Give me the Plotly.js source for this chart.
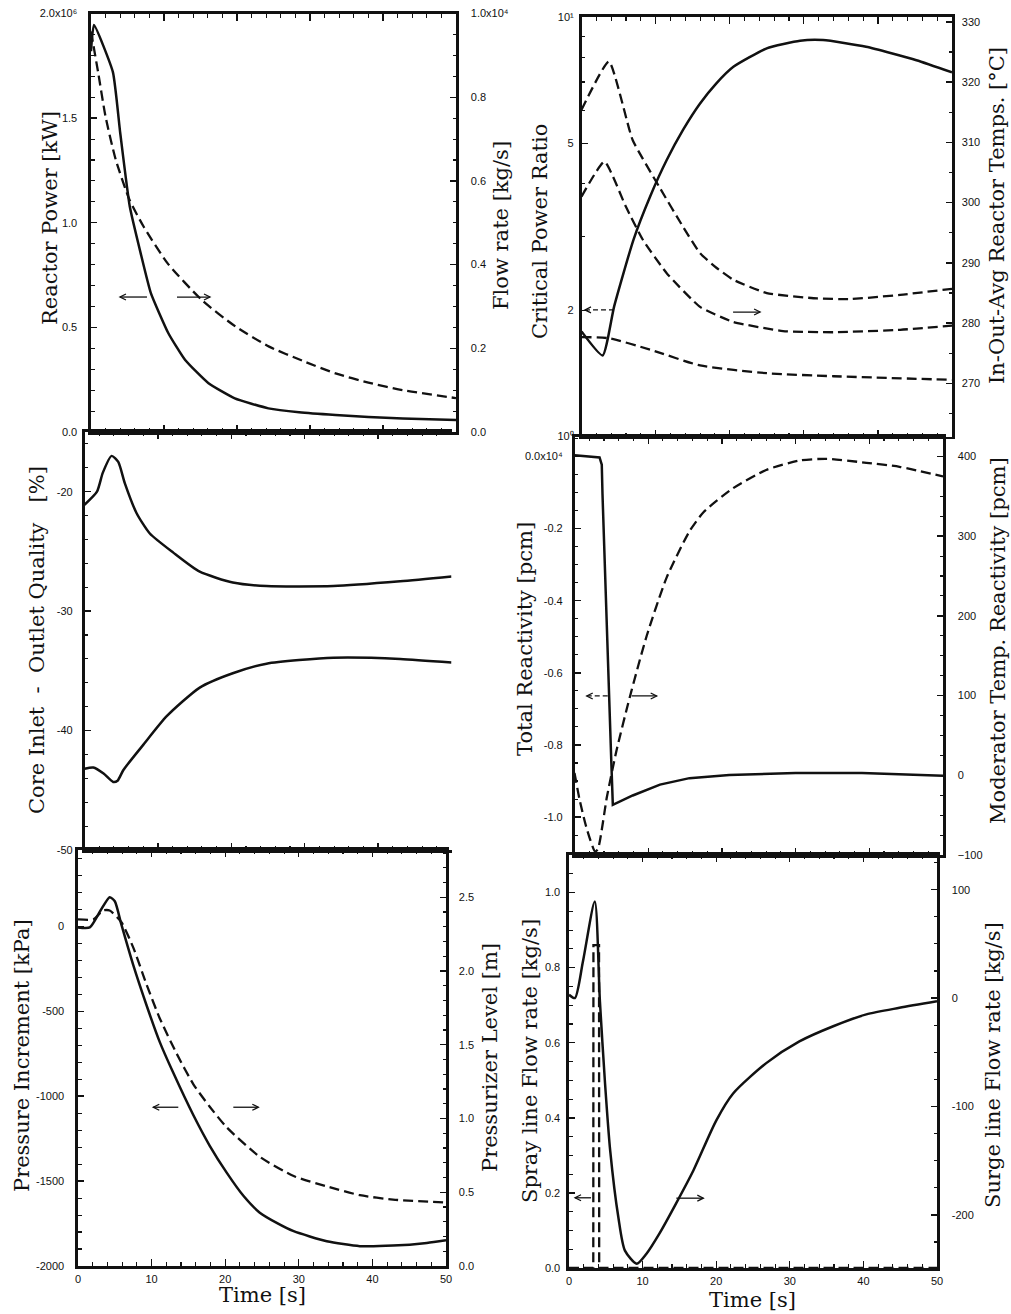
<!DOCTYPE html>
<html>
<head>
<meta charset="utf-8">
<script src="https://cdn.plot.ly/plotly-3.0.1.min.js"></script>
<style>html,body{margin:0;padding:0;background:#fff}#chart{width:1011px;height:1314px}</style>
</head>
<body>
<div id="chart"></div>
<script>
// ---------- DATA ----------
// Panel A: Reactor power [x10^6 kW] and flow rate [x10^4 kg/s]
const tPower = [0, 0.4, 3.0, 4.0, 5.3, 6.8, 8.2, 10.6, 12.9, 16.1, 19.7, 24.3, 28.5, 33.5, 38, 42.7, 50];
const reactorPower = [1.82, 1.945, 1.72, 1.43, 1.08, 0.855, 0.664, 0.472, 0.344, 0.233, 0.161, 0.113, 0.094, 0.081, 0.072, 0.065, 0.057];
const tFlow = [0, 1.0, 2.0, 3.4, 5.3, 7.2, 10.5, 15.2, 19.8, 24.4, 29, 33.5, 38, 42.7, 50];
const flowRate = [0.957, 0.857, 0.753, 0.650, 0.554, 0.491, 0.403, 0.315, 0.252, 0.204, 0.170, 0.140, 0.118, 0.100, 0.081];

// Panel B: critical power ratio (log) and in/out/avg reactor temperatures [degC]
const tCpr = [0, 2.85, 4.4, 7.0, 9.25, 11.5, 13.7, 16.0, 18.2, 20.5, 25.0, 29.5, 32.6, 38.4, 45.2, 50];
const cpr = [1.78, 1.56, 2.04, 2.94, 3.73, 4.56, 5.38, 6.22, 6.95, 7.61, 8.42, 8.78, 8.81, 8.49, 7.89, 7.38];
const tOut = [0, 3.7, 6.9, 10.5, 13.7, 16, 18.2, 20.5, 25, 31.8, 36.3, 43, 50];
const tempOut = [315.4, 323.4, 310.4, 302.6, 296.0, 291.6, 289.2, 287.2, 285.0, 284.1, 284.0, 284.7, 285.7];
const tAvg = [0, 3.1, 6.0, 8.3, 11.5, 16, 20.5, 27.2, 34, 43, 50];
const tempAvg = [301.0, 306.8, 299.3, 293.8, 288.3, 282.7, 280.2, 278.7, 278.5, 278.9, 279.6];
const tIn = [0, 3.7, 9.3, 16, 25, 34, 50];
const tempIn = [277.7, 277.5, 275.6, 273.0, 271.7, 271.2, 270.6];

// Panel C: core inlet / outlet quality [%]
const tQualOut = [0, 1.7, 2.5, 3.7, 4.6, 5.5, 7.1, 8.9, 12.1, 15.7, 20.2, 24.8, 33.9, 43, 50];
const qualOut = [-21.1, -20.0, -18.4, -17.0, -17.5, -19.3, -21.8, -23.5, -25.1, -26.7, -27.6, -27.9, -27.9, -27.5, -27.1];
const tQualIn = [0, 1.2, 2.6, 3.9, 4.5, 5.3, 8.0, 11.2, 15.7, 20.2, 24.8, 33.9, 43, 50];
const qualIn = [-43.2, -43.1, -43.6, -44.3, -44.2, -43.3, -41.2, -38.8, -36.4, -35.2, -34.4, -33.9, -34.0, -34.3];

// Panel D: total reactivity [x10^4 pcm] and moderator temperature reactivity [pcm]
const tTotal = [0, 3.4, 3.7, 3.8, 5.0, 5.2, 7.9, 11.6, 15.6, 21, 30, 39, 50];
const totalReact = [0.003, -0.003, -0.023, -0.106, -0.85, -0.966, -0.94, -0.91, -0.892, -0.883, -0.878, -0.878, -0.885];
const tMod = [0, 0.7, 1.6, 2.8, 3.2, 4.4, 5.7, 7.5, 9.8, 12.5, 15.6, 17.5, 21.5, 26, 30.6, 34.2, 39.6, 44.1, 50];
const modReact = [3, -31, -65, -96, -92, -27, 31, 98, 175, 248, 306, 330, 360, 383, 395, 397, 392, 387, 375];

// Panel E: pressure increment [kPa] and pressurizer level [m]
const tPress = [0, 1.6, 3.0, 4.3, 5.0, 5.9, 7.5, 9.3, 11.1, 12.9, 15.7, 17.9, 20.2, 22.5, 24.7, 27, 29.3, 33.8, 38.3, 42.8, 47.4, 50];
const pressInc = [-6, -6, 89, 172, 148, 10, -227, -463, -680, -858, -1114, -1292, -1450, -1588, -1686, -1746, -1795, -1854, -1883, -1880, -1864, -1848];
const tLevel = [0, 2.1, 3.4, 4.3, 5.9, 7.5, 9.3, 11.1, 13.4, 15.7, 17.9, 20.2, 24.7, 29.3, 33.8, 38.3, 42.8, 50];
const przLevel = [2.35, 2.35, 2.41, 2.41, 2.33, 2.16, 1.91, 1.68, 1.44, 1.23, 1.08, 0.94, 0.74, 0.61, 0.54, 0.48, 0.45, 0.43];

// Panel F: spray line flow [kg/s] and surge line flow [kg/s]
const tSpray = [0, 3.3, 3.32, 4.08, 4.1, 50];
const sprayFlow = [0, 0, 0.86, 0.86, 0, 0];
const tSurge = [0, 0.8, 1.9, 3.5, 4.2, 4.9, 5.6, 6.7, 7.6, 9.2, 10.5, 12.3, 14.5, 16.9, 20, 22.3, 26.8, 31.3, 35.9, 40.4, 44.9, 50];
const surgeFlow = [3, 0, 34, 89, -3, -79, -141, -202, -233, -245, -236, -217, -190, -159, -113, -88, -60, -40, -26, -15, -9, -3];

// Tick labels
const powerTicks = ['0.0', '0.5', '1.0', '1.5', '2.0x10\u2076'];
const flowTicks = ['0.0', '0.2', '0.4', '0.6', '0.8', '1.0x10\u2074'];
const cprTicks = ['10\u2070', '2', '5', '10\u00b9'];
const reactTicks = ['0.0x10\u2074', '-0.2', '-0.4', '-0.6', '-0.8', '-1.0'];

// ---------- LAYOUT HELPERS ----------
const W = 1011, H = 1314;
const fx = p => p / W;
const fy = p => 1 - p / H;
const INK = '#111';
const tickFont = {family: 'Liberation Sans, Arial, sans-serif', size: 11, color: INK};
const titleFont = {family: 'DejaVu Serif, serif', size: 21, color: INK};

// pixel boxes [left, right, top, bottom]
const box = {
  A: [91, 456, 13.5, 432],
  B: [581.5, 952, 17, 436.5],
  C: [84.5, 451.5, 432, 850],
  D: [574.5, 943, 436.5, 855],
  E: [78, 446, 850, 1266],
  F: [569, 937, 855, 1268]
};

function xAxis(b, anchor, labels) {
  return {
    domain: [fx(b[0]), fx(b[1])], anchor: anchor, range: [0, 50],
    showgrid: false, zeroline: false, showline: true, linewidth: 2.6, linecolor: INK,
    mirror: 'ticks', ticks: 'inside', ticklen: 7, tickwidth: 1.4, tickcolor: INK,
    tick0: 0, dtick: 10, showticklabels: labels, tickfont: tickFont, ticklabelstandoff: 1,
    minor: {dtick: 2, tick0: 0, ticks: 'inside', ticklen: 4, tickwidth: 1.1, tickcolor: INK, showgrid: false}
  };
}
function minorOf(d) {
  const m = {ticks: 'inside', ticklen: 3.5, tickwidth: 1.1, tickcolor: INK, showgrid: false};
  if (Array.isArray(d)) { m.tickmode = 'array'; m.tickvals = d; } else { m.dtick = d; }
  return m;
}
function yAxis(b, anchor, opts, minorD) {
  const a = Object.assign({
    domain: [fy(b[3]), fy(b[2])], anchor: anchor,
    showgrid: false, zeroline: false, showline: true, linewidth: 2.6, linecolor: INK,
    ticks: 'inside', ticklen: 6, tickwidth: 1.4, tickcolor: INK,
    tickfont: tickFont, ticklabelstandoff: 6
  }, opts);
  if (minorD) a.minor = minorOf(minorD);
  return a;
}
function rightAxis(base, anchor, opts, minorD) {
  const a = Object.assign({
    overlaying: base, side: 'right', anchor: anchor,
    showgrid: false, zeroline: false, showline: true, linewidth: 2.6, linecolor: INK,
    ticks: 'inside', ticklen: 6, tickwidth: 1.4, tickcolor: INK,
    tickfont: tickFont, ticklabelstandoff: 8
  }, opts);
  if (minorD) a.minor = minorOf(minorD);
  return a;
}

const solid = {color: INK, width: 2.5};
const dashed = {color: INK, width: 2.3, dash: '10px,5px'};
const sm = (base, s) => Object.assign({shape: 'spline', smoothing: s}, base);

const traces = [
  {x: tPower, y: reactorPower, xaxis: 'x', yaxis: 'y', mode: 'lines', line: sm(solid, 0.45), name: 'Reactor Power'},
  {x: tFlow, y: flowRate, xaxis: 'x', yaxis: 'y2', mode: 'lines', line: sm(dashed, 0.6), name: 'Flow rate'},

  {x: tCpr, y: cpr, xaxis: 'x2', yaxis: 'y3', mode: 'lines', line: sm(solid, 0.5), name: 'Critical Power Ratio'},
  {x: tOut, y: tempOut, xaxis: 'x2', yaxis: 'y4', mode: 'lines', line: sm(dashed, 0.45), name: 'Outlet temp'},
  {x: tAvg, y: tempAvg, xaxis: 'x2', yaxis: 'y4', mode: 'lines', line: sm(dashed, 0.45), name: 'Average temp'},
  {x: tIn, y: tempIn, xaxis: 'x2', yaxis: 'y4', mode: 'lines', line: sm(dashed, 0.6), name: 'Inlet temp'},

  {x: tQualOut, y: qualOut, xaxis: 'x3', yaxis: 'y5', mode: 'lines', line: sm(solid, 0.6), name: 'Outlet quality'},
  {x: tQualIn, y: qualIn, xaxis: 'x3', yaxis: 'y5', mode: 'lines', line: sm(solid, 0.6), name: 'Inlet quality'},

  {x: tTotal, y: totalReact, xaxis: 'x4', yaxis: 'y7', mode: 'lines', line: solid, name: 'Total Reactivity'},
  {x: tMod, y: modReact, xaxis: 'x4', yaxis: 'y8', mode: 'lines', line: sm(dashed, 0.6), name: 'Moderator Temp. Reactivity'},

  {x: tPress, y: pressInc, xaxis: 'x5', yaxis: 'y9', mode: 'lines', line: sm(solid, 0.6), name: 'Pressure Increment'},
  {x: tLevel, y: przLevel, xaxis: 'x5', yaxis: 'y10', mode: 'lines', line: sm(dashed, 0.6), name: 'Pressurizer Level'},

  {x: tSpray, y: sprayFlow, xaxis: 'x6', yaxis: 'y11', mode: 'lines', line: dashed, name: 'Spray line Flow rate'},
  {x: tSurge, y: surgeFlow, xaxis: 'x6', yaxis: 'y12', mode: 'lines', line: sm(solid, 0.7), name: 'Surge line Flow rate'}
];

function title(text, px, py, angle) {
  return {text: text, xref: 'paper', yref: 'paper', x: fx(px), y: fy(py), xanchor: 'center', yanchor: 'middle',
          textangle: angle, showarrow: false, font: titleFont};
}
// arrow drawn as shapes anchored at its tip; len > 0 means the tail lies to the right (arrow points left)
function arrowShapes(xr, yr, x, y, len, dashedShaft) {
  const s = len > 0 ? 1 : -1;
  const common = {type: 'path', xref: xr, yref: yr, xsizemode: 'pixel', ysizemode: 'pixel', xanchor: x, yanchor: y};
  return [
    Object.assign({}, common, {path: 'M0,0 L' + len + ',0', line: {color: INK, width: 1.3, dash: dashedShaft ? '5px,3px' : 'solid'}}),
    Object.assign({}, common, {path: 'M' + (6 * s) + ',3 L0,0 L' + (6 * s) + ',-3', line: {color: INK, width: 1.3}})
  ];
}
const nb = '\u00a0';

const shapes = [].concat(
  arrowShapes('x', 'y', 3.97, 0.645, 27, false),
  arrowShapes('x', 'y', 16.3, 0.645, -33, false),
  arrowShapes('x2', 'y4', 0.47, 282.2, 28, true),
  arrowShapes('x2', 'y4', 24.1, 281.85, -27, false),
  arrowShapes('x4', 'y8', 1.66, 99.5, 23, true),
  arrowShapes('x4', 'y8', 11.15, 99.5, -25, false),
  arrowShapes('x5', 'y9', 10.23, -1065, 25, false),
  arrowShapes('x5', 'y9', 24.5, -1065, -25, false),
  arrowShapes('x6', 'y11', 0.82, 0.187, 16, false),
  arrowShapes('x6', 'y11', 18.25, 0.186, -27, false)
);

const layout = {
  width: W, height: H, margin: {l: 0, r: 0, t: 0, b: 0},
  paper_bgcolor: '#fff', plot_bgcolor: '#fff', showlegend: false,
  font: tickFont,

  xaxis: xAxis(box.A, 'y', false),
  yaxis: yAxis(box.A, 'x', {range: [0, 2], tickvals: [0, 0.5, 1, 1.5, 2], ticktext: powerTicks, ticklabelstandoff: 9}, 0.1),
  yaxis2: rightAxis('y', 'x', {range: [0, 1], tickvals: [0, 0.2, 0.4, 0.6, 0.8, 1], ticktext: flowTicks, ticklabelstandoff: 10}, 0.05),

  xaxis2: xAxis(box.B, 'y3', false),
  yaxis3: yAxis(box.B, 'x2', {type: 'log', range: [0, 1], tickvals: [1, 2, 5, 10], ticktext: cprTicks,
    ticklabelstandoff: 3}, [3, 4, 6, 7, 8, 9]),
  yaxis4: rightAxis('y3', 'x2', {range: [261.2, 330.8], tick0: 270, dtick: 10, ticklabelstandoff: 5}, 5),

  xaxis3: xAxis(box.C, 'y5', false),
  yaxis5: yAxis(box.C, 'x3', {range: [-50, -15], tickvals: [-50, -40, -30, -20],
    ticktext: ['-50', '-40', '-30', '-20'], ticklabelstandoff: 7}, 2),
  yaxis6: rightAxis('y5', 'x3', {range: [-50, -15], tick0: 0, dtick: 10, showticklabels: false}, 2),

  xaxis4: xAxis(box.D, 'y7', false),
  yaxis7: yAxis(box.D, 'x4', {range: [-1.105, 0.055], tickvals: [0, -0.2, -0.4, -0.6, -0.8, -1.0],
    ticktext: reactTicks, ticklabelstandoff: 7}, 0.05),
  yaxis8: rightAxis('y7', 'x4', {range: [-100, 425], tick0: 0, dtick: 100, ticklabelstandoff: 10}, 25),

  xaxis5: xAxis(box.E, 'y9', true),
  yaxis9: yAxis(box.E, 'x5', {range: [-2000, 450], tickvals: [-2000, -1500, -1000, -500, 0],
    ticktext: ['-2000', '-1500', '-1000', '-500', '0'], ticklabelstandoff: 9}, 100),
  yaxis10: rightAxis('y9', 'x5', {range: [0, 2.82], tick0: 0, dtick: 0.5, tickformat: '.1f', ticklabelstandoff: 8}, 0.1),

  xaxis6: xAxis(box.F, 'y11', true),
  yaxis11: yAxis(box.F, 'x6', {range: [0, 1.1], tick0: 0, dtick: 0.2, tickformat: '.1f', ticklabelstandoff: 4}, 0.05),
  yaxis12: rightAxis('y11', 'x6', {range: [-249, 132], tickvals: [-200, -100, 0, 100],
    ticktext: ['-200', '-100', '0', '100'], ticklabelstandoff: 10}, 25),

  shapes: shapes,
  annotations: [
    title('Reactor Power [kW]', 50, 218, -90),
    title('Flow rate [kg/s]', 501, 226, -90),
    title('Critical Power Ratio', 540, 232, -90),
    title('In-Out-Avg Reactor Temps. [°C]', 997, 216, -90),
    title('Core Inlet' + nb + ' -' + nb + ' Outlet Quality' + nb + nb + ' [%]', 37, 640, -90),
    title('Total Reactivity [pcm]', 525, 639, -90),
    title('Moderator Temp. Reactivity [pcm]', 998, 641, -90),
    title('Pressure Increment [kPa]', 22, 1056, -90),
    title('Pressurizer Level [m]', 490, 1058, -90),
    title('Spray line Flow rate [kg/s]', 530, 1061, -90),
    title('Surge line Flow rate [kg/s]', 993, 1065, -90),
    title('Time [s]', 262, 1295, 0),
    title('Time [s]', 752, 1300, 0)
  ]
};

Plotly.newPlot('chart', traces, layout, {staticPlot: true, displayModeBar: false});
</script>
</body>
</html>
